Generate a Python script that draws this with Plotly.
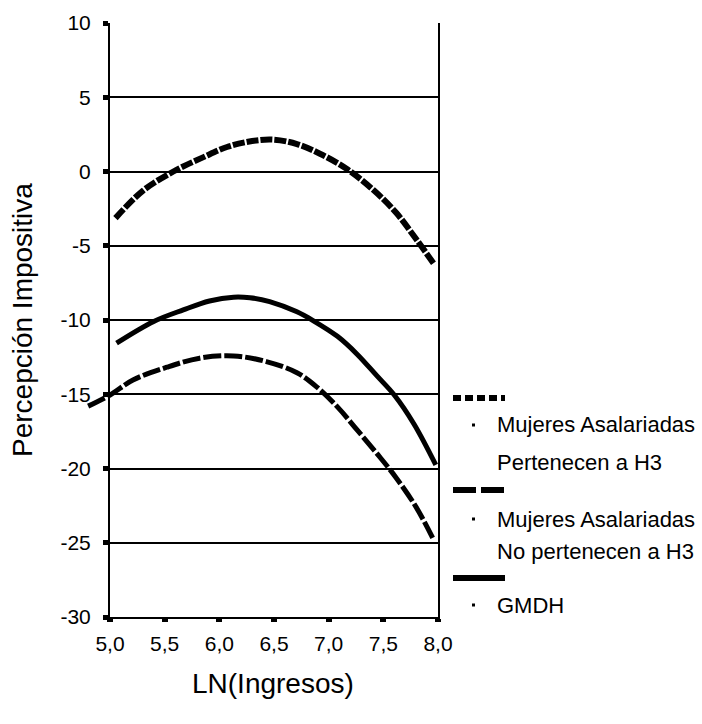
import plotly.graph_objects as go

# ---------------- data ----------------
x_ticks = [5.0, 5.5, 6.0, 6.5, 7.0, 7.5, 8.0]
x_ticktext = ["5,0", "5,5", "6,0", "6,5", "7,0", "7,5", "8,0"]
y_ticks = [10, 5, 0, -5, -10, -15, -20, -25, -30]
y_ticktext = ["10", "5", "0", "-5", "-10", "-15", "-20", "-25", "-30"]

# Mujeres Asalariadas - Pertenecen a H3 (dotted)
h3_x = [5.05, 5.30, 5.58, 5.85, 6.07, 6.30, 6.49, 6.71, 6.92, 7.16, 7.41, 7.62, 7.80, 7.97]
h3_y = [-3.14, -1.3, 0.0, 0.95, 1.65, 2.05, 2.15, 1.85, 1.2, 0.2, -1.25, -2.8, -4.55, -6.3]

# GMDH (solid)
gmdh_x = [5.06, 5.40, 5.67, 5.91, 6.13, 6.28, 6.46, 6.71, 6.86, 7.08, 7.26, 7.44, 7.60, 7.78, 7.98]
gmdh_y = [-11.56, -10.1, -9.32, -8.72, -8.46, -8.5, -8.76, -9.45, -10.05, -11.1, -12.3, -13.75, -15.05, -17.0, -19.76]

# Mujeres Asalariadas - No pertenecen a H3 (dashed)
noh3_x = [4.80, 5.00, 5.21, 5.52, 5.82, 6.13, 6.43, 6.71, 6.89, 7.08, 7.26, 7.44, 7.61, 7.80, 7.96]
noh3_y = [-15.8, -15.05, -14.04, -13.18, -12.57, -12.42, -12.8, -13.55, -14.5, -15.85, -17.4, -18.98, -20.55, -22.6, -24.8]

legend_rows = [
    ("Mujeres Asalariadas", "Pertenecen a H3"),
    ("Mujeres Asalariadas", "No pertenecen a H3"),
    ("GMDH", None),
]
x_title = "LN(Ingresos)"
y_title = "Percepción Impositiva"

# ---------------- layout geometry ----------------
W, H = 702, 724
ML, MR, MT, MB = 60, 264, 23, 107
PW, PH = W - ML - MR, H - MT - MB
AX_LEFT = 110  # pixel where x = 5.0


def px(p):
    return (p - ML) / PW


def py(p):
    return (H - MB - p) / PH


FONT = "Liberation Sans, Arial, sans-serif"
dot_dash = "12px,2px"
long_dash = "18px,3px"

fig = go.Figure()

fig.add_trace(go.Scatter(x=h3_x, y=h3_y, mode="lines", line=dict(color="black", width=6, dash=dot_dash, shape="spline"),
                         xaxis="x", yaxis="y", showlegend=False, hoverinfo="skip"))
fig.add_trace(go.Scatter(x=gmdh_x, y=gmdh_y, mode="lines", line=dict(color="black", width=5, shape="spline"),
                         xaxis="x", yaxis="y", showlegend=False, hoverinfo="skip"))
fig.add_trace(go.Scatter(x=noh3_x, y=noh3_y, mode="lines", line=dict(color="black", width=5, dash=long_dash, shape="spline"),
                         xaxis="x2", yaxis="y2", showlegend=False, hoverinfo="skip"))

x_units_per_px = (max(x_ticks) - min(x_ticks)) / (PW - (AX_LEFT - ML))
x2_start = min(x_ticks) - (AX_LEFT - ML) * x_units_per_px

fig.update_layout(
    width=W, height=H, template="none",
    margin=dict(l=ML, r=MR, t=MT, b=MB, pad=0),
    paper_bgcolor="white", plot_bgcolor="rgba(0,0,0,0)",
    font=dict(family=FONT, color="black", size=21),
    showlegend=False,
    xaxis=dict(domain=[px(AX_LEFT), 1], range=[min(x_ticks), max(x_ticks)], anchor="y",
               tickvals=x_ticks, ticktext=x_ticktext, ticks="outside", ticklen=3, tickwidth=6,
               tickcolor="black", showline=True, linecolor="black", linewidth=2, showgrid=False,
               zeroline=False, tickfont=dict(size=21), ticklabelstandoff=4),
    yaxis=dict(domain=[0, 1], range=[-30, 10], anchor="x",
               tickvals=y_ticks, ticktext=y_ticktext, ticks="outside", ticklen=5, tickwidth=5,
               tickcolor="black", showline=True, mirror=True, linecolor="black", linewidth=2,
               showgrid=True, gridcolor="black", gridwidth=1.5, zeroline=False,
               tickfont=dict(size=21), ticklabelstandoff=8),
    xaxis2=dict(domain=[0, 1], range=[x2_start, max(x_ticks)], anchor="y2", visible=False),
    yaxis2=dict(domain=[0, 1], range=[-30, 10], anchor="x2", visible=False),
)

annotations = [
    dict(text=x_title, x=px(273), y=py(683), xref="paper", yref="paper", showarrow=False,
         font=dict(size=28), xanchor="center", yanchor="middle"),
    dict(text=y_title, x=px(22), y=py(320), xref="paper", yref="paper", showarrow=False,
         font=dict(size=28), textangle=-90, xanchor="center", yanchor="middle"),
]

# legend
sample_y = [398, 490, 578]
sample_dash = ["8px,4px", "23px,5px", "solid"]
label1_y = [425, 519, 605]
label2_y = [462, 551, None]
shapes = []
for i, (l1, l2) in enumerate(legend_rows):
    shapes.append(dict(type="line", xref="paper", yref="paper", x0=px(453), x1=px(505),
                       y0=py(sample_y[i]), y1=py(sample_y[i]),
                       line=dict(color="black", width=6, dash=sample_dash[i])))
    shapes.append(dict(type="rect", xref="paper", yref="paper", x0=px(472), x1=px(475),
                       y0=py(label1_y[i] + 1.5), y1=py(label1_y[i] - 1.5),
                       fillcolor="black", line=dict(width=0)))
    annotations.append(dict(text=l1, x=px(495), y=py(label1_y[i]), xref="paper", yref="paper",
                            showarrow=False, xanchor="left", yanchor="middle", font=dict(size=22)))
    if l2:
        annotations.append(dict(text=l2, x=px(495), y=py(label2_y[i]), xref="paper", yref="paper",
                                showarrow=False, xanchor="left", yanchor="middle", font=dict(size=22)))

fig.update_layout(annotations=annotations, shapes=shapes)
fig.write_html("out.html")
